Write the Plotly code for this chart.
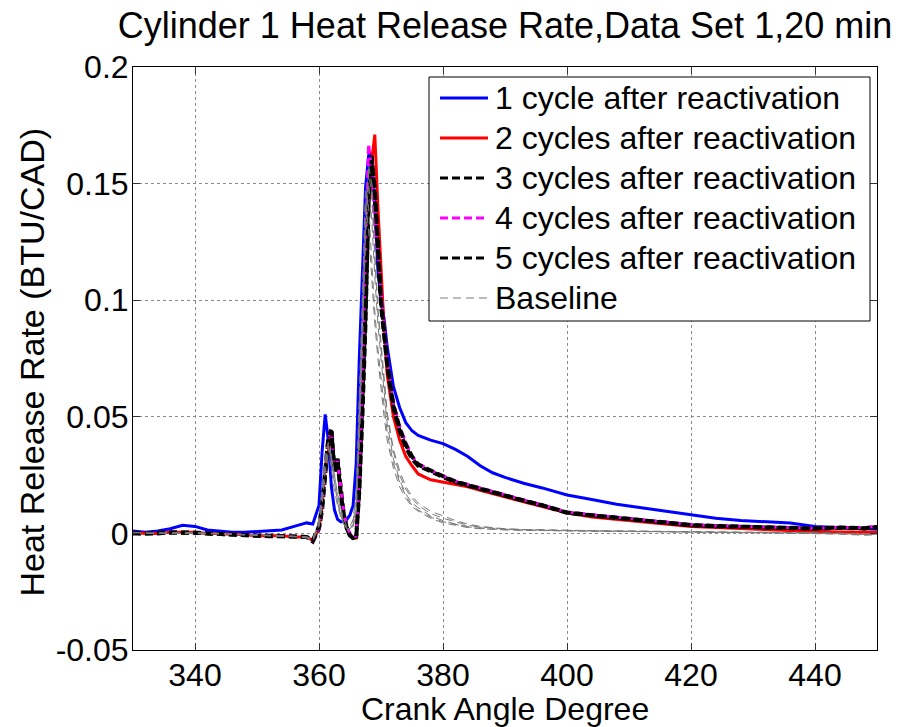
import plotly.graph_objects as go

# Crank angle grid (CAD)
crank_angle = [330, 332, 334, 336, 338, 340, 342, 344, 346, 348, 350, 352, 354, 356, 358,
               359, 360,
               360.5, 361, 361.5, 362, 362.5, 363, 363.5, 364, 364.5, 365, 365.5, 366,
               366.5, 367, 367.5, 368, 368.5, 369, 369.5, 370, 370.5,
               371, 372, 373, 374, 375, 376,
               378, 380, 382, 384, 386, 388, 390,
               393, 396,
               400, 404, 408, 412, 416, 420, 424, 428, 432, 436, 440, 444, 448,
               450]

cycle1 = [0.001, 0.0005, 0.001, 0.002, 0.0035, 0.003, 0.0015, 0.001, 0.0005, 0.0005, 0.0008, 0.001, 0.0015, 0.003, 0.0045,
          0.004, 0.012,
          0.035, 0.051, 0.04, 0.02, 0.01, 0.006, 0.005, 0.005, 0.006, 0.008, 0.012, 0.03,
          0.075, 0.115, 0.148, 0.162, 0.163, 0.14, 0.113, 0.1, 0.092,
          0.08, 0.063, 0.054, 0.0475, 0.044, 0.042,
          0.04, 0.0385, 0.036, 0.033, 0.029, 0.026, 0.024,
          0.0215, 0.0195,
          0.0165, 0.0145, 0.0125, 0.011, 0.0095, 0.0078, 0.0065, 0.0055, 0.005, 0.0045, 0.003, 0.0025, 0.002,
          0.0018]

cycle2 = [0.0005, 0.0, 0.0, 0.0005, 0.0005, 0.0005, 0.0, 0.0, -0.0005, -0.0005, -0.001, -0.001, -0.001, -0.0015, -0.0015,
          -0.003, 0.002,
          0.012, 0.028, 0.035, 0.044, 0.027, 0.031, 0.018, 0.008, 0.002, -0.001, -0.002, -0.002,
          0.025, 0.06, 0.1, 0.138, 0.16, 0.171, 0.14, 0.112, 0.088,
          0.068, 0.05, 0.04, 0.033, 0.029, 0.0255,
          0.023, 0.022, 0.021, 0.02, 0.0185, 0.017, 0.0155,
          0.0135, 0.0115,
          0.0088, 0.007, 0.006, 0.005, 0.004, 0.003, 0.0025, 0.002, 0.0015, 0.001, 0.0008, 0.0006, 0.0005,
          0.0005]

cycle3 = [0.0, 0.0, 0.0, 0.0005, 0.0005, 0.0003, 0.0, -0.0003, -0.0005, -0.0008, -0.001, -0.001, -0.0012, -0.0015, -0.0015,
          -0.0035, 0.002,
          0.01, 0.025, 0.04, 0.045, 0.027, 0.032, 0.018, 0.008, 0.002, -0.001, -0.002, -0.0015,
          0.02, 0.055, 0.095, 0.14, 0.162, 0.145, 0.12, 0.098, 0.085,
          0.072, 0.054, 0.044, 0.037, 0.032, 0.029,
          0.0265, 0.0242, 0.022, 0.0205, 0.019, 0.0175, 0.016,
          0.014, 0.012,
          0.0088, 0.0077, 0.0067, 0.0057, 0.0046, 0.0035, 0.0031, 0.0028, 0.0024, 0.0021, 0.002, 0.0024, 0.0021,
          0.0027]

cycle4 = [0.0, 0.0, 0.0003, 0.0005, 0.0005, 0.0003, 0.0, 0.0, -0.0003, -0.0005, -0.0008, -0.001, -0.001, -0.0012, -0.0015,
          -0.0033, 0.002,
          0.011, 0.026, 0.041, 0.044, 0.028, 0.031, 0.019, 0.009, 0.003, 0.0, -0.002, -0.001,
          0.022, 0.062, 0.12, 0.167, 0.155, 0.135, 0.12, 0.103, 0.09,
          0.075, 0.056, 0.046, 0.039, 0.033, 0.03,
          0.027, 0.0248, 0.0225, 0.021, 0.0195, 0.018, 0.0165,
          0.0142, 0.0122,
          0.0092, 0.008, 0.007, 0.006, 0.0049, 0.0038, 0.0033, 0.003, 0.0027, 0.0024, 0.0022, 0.0026, 0.0025,
          0.003]

cycle5 = [0.0003, 0.0, 0.0003, 0.0003, 0.0005, 0.0003, 0.0, -0.0003, -0.0005, -0.0005, -0.001, -0.0012, -0.0012, -0.0012, -0.0015,
          -0.003, 0.003,
          0.012, 0.027, 0.041, 0.044, 0.026, 0.031, 0.017, 0.008, 0.002, -0.001, -0.002, -0.002,
          0.018, 0.05, 0.09, 0.145, 0.16, 0.148, 0.122, 0.1, 0.087,
          0.073, 0.055, 0.045, 0.038, 0.033, 0.0295,
          0.0268, 0.0245, 0.0222, 0.0207, 0.0192, 0.0176, 0.0162,
          0.0141, 0.0121,
          0.009, 0.0078, 0.0068, 0.0058, 0.0048, 0.0036, 0.0032, 0.0029, 0.0025, 0.0022, 0.0021, 0.0025, 0.0022,
          0.0028]

baseline_a = [0.0, 0.0, 0.0, 0.0003, 0.0003, 0.0003, 0.0, 0.0, -0.0003, -0.0005, -0.0008, -0.001, -0.001, -0.0012, -0.0015,
              -0.0025, 0.004,
              0.015, 0.03, 0.038, 0.032, 0.022, 0.014, 0.008, 0.004, 0.002, 0.002, 0.004, 0.012,
              0.045, 0.09, 0.13, 0.15, 0.135, 0.11, 0.09, 0.075, 0.06,
              0.047, 0.032, 0.023, 0.017, 0.013, 0.011,
              0.0075, 0.0055, 0.004, 0.003, 0.0025, 0.002, 0.0018,
              0.0015, 0.0013,
              0.0012, 0.001, 0.001, 0.0008, 0.0008, 0.0006, 0.0005, 0.0005, 0.0004, 0.0003, 0.0002, 0.0, -0.0005,
              -0.0003]

baseline_b = [0.0005, 0.0, 0.0, 0.0, 0.0005, 0.0003, 0.0, -0.0003, -0.0005, -0.0005, -0.001, -0.001, -0.0012, -0.0015, -0.002,
              -0.003, 0.003,
              0.013, 0.028, 0.036, 0.034, 0.024, 0.016, 0.01, 0.005, 0.002, 0.001, 0.003, 0.01,
              0.04, 0.085, 0.13, 0.158, 0.15, 0.12, 0.097, 0.082, 0.066,
              0.052, 0.036, 0.027, 0.02, 0.016, 0.013,
              0.0095, 0.0075, 0.0055, 0.004, 0.003, 0.0025, 0.002,
              0.0017, 0.0015,
              0.0013, 0.0012, 0.001, 0.001, 0.0008, 0.0007, 0.0006, 0.0005, 0.0005, 0.0004, 0.0003, 0.0001, -0.0003,
              -0.0002]

baseline_c = [0.0, 0.0003, 0.0, 0.0003, 0.0, 0.0, 0.0, -0.0003, -0.0005, -0.0008, -0.0008, -0.001, -0.0012, -0.0012, -0.0015,
              -0.0028, 0.005,
              0.018, 0.032, 0.037, 0.028, 0.018, 0.012, 0.007, 0.004, 0.002, 0.003, 0.006, 0.018,
              0.06, 0.11, 0.142, 0.13, 0.11, 0.09, 0.075, 0.062, 0.05,
              0.04, 0.028, 0.02, 0.015, 0.0115, 0.0095,
              0.0065, 0.0045, 0.0035, 0.0025, 0.002, 0.0017, 0.0015,
              0.0013, 0.0012,
              0.001, 0.0009, 0.0008, 0.0007, 0.0006, 0.0005, 0.0005, 0.0004, 0.0003, 0.0002, 0.0, -0.0003, -0.0008,
              -0.0005]

baseline_d = [0.0003, 0.0, 0.0003, 0.0, 0.0003, 0.0003, 0.0, 0.0, -0.0003, -0.0005, -0.0008, -0.001, -0.001, -0.0012, -0.0018,
              -0.0032, 0.003,
              0.012, 0.026, 0.034, 0.033, 0.025, 0.017, 0.011, 0.006, 0.003, 0.002, 0.003, 0.009,
              0.038, 0.08, 0.125, 0.155, 0.145, 0.118, 0.095, 0.079, 0.064,
              0.05, 0.035, 0.025, 0.019, 0.015, 0.012,
              0.0085, 0.0065, 0.005, 0.0035, 0.0028, 0.0022, 0.0019,
              0.0016, 0.0014,
              0.0012, 0.0011, 0.001, 0.0009, 0.0008, 0.0007, 0.0006, 0.0005, 0.0004, 0.0003, 0.0002, 0.0, -0.0004,
              -0.0002]

baseline_e = [0.0, 0.0, 0.0003, 0.0003, 0.0, 0.0003, 0.0003, 0.0, -0.0003, -0.0005, -0.0005, -0.0008, -0.001, -0.0012, -0.0015,
              -0.0026, 0.006,
              0.02, 0.034, 0.039, 0.03, 0.02, 0.013, 0.008, 0.004, 0.002, 0.002, 0.005, 0.015,
              0.055, 0.1, 0.148, 0.14, 0.118, 0.095, 0.079, 0.066, 0.054,
              0.043, 0.03, 0.022, 0.016, 0.012, 0.01,
              0.007, 0.005, 0.0038, 0.0028, 0.0022, 0.0018, 0.0016,
              0.0014, 0.0012,
              0.0011, 0.001, 0.0009, 0.0008, 0.0007, 0.0006, 0.0005, 0.0004, 0.0004, 0.0003, 0.0001, -0.0002, -0.0006,
              -0.0004]

x_ticks = [340, 360, 380, 400, 420, 440]
y_ticks = [-0.05, 0, 0.05, 0.1, 0.15, 0.2]
y_tick_text = ["-0.05", "0", "0.05", "0.1", "0.15", "0.2"]

FONT = "Liberation Sans, Arial, sans-serif"

W, H = 899, 727
ML, MR, MT, MB = 133, 22, 67, 77
PW, PH = W - ML - MR, H - MT - MB


def px_to_paper_x(px):
    return (px - ML) / PW


def px_to_paper_y(py):
    return (H - MB - py) / PH


fig = go.Figure()

# name, values, color, plot width, dash, legend sample width
series = [
    ("1 cycle after reactivation", cycle1, "#0000ff", 3, "solid", 3),
    ("2 cycles after reactivation", cycle2, "#ff0000", 3, "solid", 3),
    ("3 cycles after reactivation", cycle3, "#000000", 4, "8px,4px", 3),
    ("4 cycles after reactivation", cycle4, "#ff00ff", 3, "8px,4px", 3),
    ("5 cycles after reactivation", cycle5, "#000000", 4, "8px,4px", 3),
]
baseline_style = ("Baseline", "#7a7a7a", 1, "8px,5px", 1)

for name, ys, color, width, dash, _ in series:
    fig.add_trace(go.Scatter(x=crank_angle, y=ys, mode="lines", name=name,
                             showlegend=False,
                             line=dict(color=color, width=width, dash=dash)))

for ys in [baseline_a, baseline_b, baseline_c, baseline_d, baseline_e]:
    fig.add_trace(go.Scatter(x=crank_angle, y=ys, mode="lines", name="Baseline",
                             showlegend=False,
                             line=dict(color=baseline_style[1], width=baseline_style[2],
                                       dash=baseline_style[3])))

# Legend box (drawn to mimic MATLAB legend layout)
legend_entries = [(n, c, d, lw) for n, _, c, _, d, lw in series] + \
                 [(baseline_style[0], baseline_style[1], baseline_style[3], baseline_style[4])]
box_left, box_right, box_top, box_bottom = 429, 870, 77, 321
row_first, row_step = 98, 40
shapes = [dict(type="rect", xref="paper", yref="paper",
               x0=px_to_paper_x(box_left), x1=px_to_paper_x(box_right),
               y0=px_to_paper_y(box_bottom), y1=px_to_paper_y(box_top),
               line=dict(color="#000000", width=1), fillcolor="white", layer="above")]
annotations = []
for i, (name, color, dash, lw) in enumerate(legend_entries):
    yc = px_to_paper_y(row_first + i * row_step)
    shapes.append(dict(type="line", xref="paper", yref="paper",
                       x0=px_to_paper_x(440), x1=px_to_paper_x(488), y0=yc, y1=yc,
                       line=dict(color=color, width=lw, dash=dash), layer="above"))
    annotations.append(dict(text=name, xref="paper", yref="paper",
                            x=px_to_paper_x(493), y=yc, xanchor="left", yanchor="middle",
                            showarrow=False,
                            font=dict(family=FONT, size=32, color="#000000")))

annotations += [
    dict(text="Crank Angle Degree", xref="paper", yref="paper",
         x=0.5, y=0, xanchor="center", yanchor="middle", yshift=-59,
         showarrow=False, font=dict(family=FONT, size=32, color="#000000")),
    dict(text="Heat Release Rate (BTU/CAD)", xref="paper", yref="paper",
         x=0, y=0.5, xanchor="center", yanchor="middle", xshift=-102, yshift=-4,
         textangle=-90, showarrow=False,
         font=dict(family=FONT, size=34, color="#000000")),
]

axis_common = dict(
    showline=True, linecolor="#000000", linewidth=1, mirror="ticks",
    ticks="inside", ticklen=7, tickcolor="#333333", tickwidth=1,
    showgrid=True, gridcolor="#8a8a8a", griddash="dot", gridwidth=1,
    zeroline=False, automargin=False,
    tickfont=dict(family=FONT, size=32, color="#000000"),
)

fig.update_layout(
    width=W, height=H, autosize=False,
    margin=dict(l=ML, r=MR, t=MT, b=MB),
    paper_bgcolor="white", plot_bgcolor="white",
    font=dict(family=FONT, color="#000000"),
    title=dict(text="Cylinder 1 Heat Release Rate,Data Set 1,20 min",
               x=0.5, xref="paper", xanchor="center",
               y=1 - 25 / H, yref="container", yanchor="middle",
               font=dict(family=FONT, size=36, color="#000000")),
    xaxis=dict(range=[330, 450], tickvals=x_ticks, ticklabelstandoff=-3, **axis_common),
    yaxis=dict(range=[-0.05, 0.2], tickvals=y_ticks, ticktext=y_tick_text,
               ticklabelstandoff=-3, **axis_common),
    showlegend=False,
    hovermode=False,
    shapes=shapes,
    annotations=annotations,
)

fig.write_html("out.html", config={"displayModeBar": False},
               post_script="document.body.style.margin='0px';document.body.style.overflow='hidden';")
